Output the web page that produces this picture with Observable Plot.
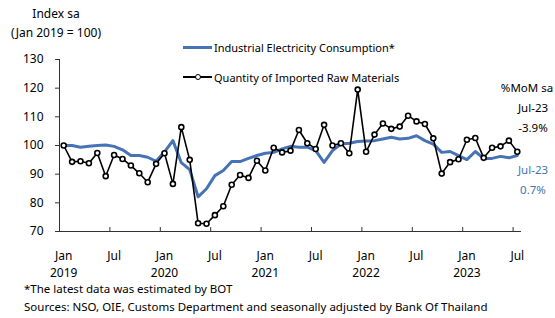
<!DOCTYPE html>
<html>
<head>
<meta charset="utf-8">
<script src="https://cdn.jsdelivr.net/npm/d3@7"></script>
<script src="https://cdn.jsdelivr.net/npm/@observablehq/plot@0.6"></script>
<style>
  html, body { margin: 0; padding: 0; background: #fff; }
  body { font-family: "Noto Sans", sans-serif; color: #000; }
  #wrap { position: relative; width: 555px; height: 318px; overflow: hidden; }
  .t { position: absolute; white-space: nowrap; line-height: 1; }
  .lg { position: absolute; display: flex; align-items: center; font-size: 11px; white-space: nowrap; }
  .sw { position: relative; width: 29px; height: 3px; margin-right: 2px; }
</style>
</head>
<body>
<div id="wrap"></div>
<script>
// ---- data (monthly, Jan 2019 .. Jul 2023) ----
const startYear = 2019;
const electricity = [
  100, 100.0, 99.4, 99.7, 100.0, 100.2, 99.7, 98.5, 96.5, 96.5, 95.9, 94.5,
  97.8, 101.7, 94.0, 91.6, 82.1, 84.9, 89.5, 91.3, 94.4, 94.4, 95.5, 96.5,
  97.3, 97.6, 98.8, 99.7, 99.4, 99.4, 98.2, 94.1, 98.2, 100.5, 100.8, 101.4,
  101.6, 101.7, 102.3, 102.9, 102.3, 102.5, 103.4, 101.7, 100.5, 97.6, 97.9, 96.5,
  95.1, 97.9, 95.5, 95.5, 96.2, 95.7, 96.5
];
const rawMaterials = [
  100, 94.3, 94.5, 93.8, 97.4, 89.3, 96.7, 95.3, 93.0, 90.3, 87.2, 93.6,
  97.3, 86.6, 106.4, 95.0, 72.9, 72.7, 75.7, 78.8, 86.3, 89.7, 88.7, 94.7,
  91.3, 99.2, 97.6, 98.2, 105.4, 100.8, 98.8, 107.2, 100.0, 100.8, 97.3, 119.5,
  97.8, 103.8, 107.7, 105.8, 106.6, 110.4, 108.4, 107.5, 102.5, 90.2, 94.2, 95.2,
  102.0, 102.6, 95.7, 99.2, 99.7, 101.7, 97.8
];
const yTicks = [70, 80, 90, 100, 110, 120, 130];
const xTickMonths = [0, 6, 12, 18, 24, 30, 36, 42, 48, 54];
const xTickLabels = ["Jan\n2019", "Jul", "Jan\n2020", "Jul", "Jan\n2021", "Jul", "Jan\n2022", "Jul", "Jan\n2023", "Jul"];
const seriesNames = ["Industrial Electricity Consumption*", "Quantity of Imported Raw Materials"];
const annoBlack = ["%MoM sa", "Jul-23", "-3.9%"];
const annoBlue = ["Jul-23", "0.7%"];

const BLUE = "#4673b5";
const data = electricity.map((e, i) => ({i, elec: e, raw: rawMaterials[i]}));

const W = 555, H = 318;
const mTop = 59, mBottom = 87, mLeft = 59, mRight = 34;
const plotH = H - mTop - mBottom;

const chart = Plot.plot({
  width: W, height: H,
  marginTop: mTop, marginBottom: mBottom, marginLeft: mLeft, marginRight: mRight,
  style: {fontFamily: "'Noto Sans', sans-serif", fontSize: "12px", color: "#000", background: "transparent"},
  x: {domain: [-0.5, electricity.length - 0.5], axis: null},
  y: {domain: [yTicks[0], yTicks[yTicks.length - 1]], axis: null},
  marks: [
    Plot.axisY({ticks: yTicks, tickSize: 4, tickPadding: 12, stroke: "#333", fill: "#000", label: null, fontSize: 12}),
    Plot.axisX({ticks: xTickMonths, tickFormat: (d, k) => xTickLabels[k], tickSize: 0, tickPadding: 17, lineHeight: 1.4, fill: "#000", label: null, fontSize: 12}),
    Plot.ruleX([-0.5], {stroke: "#333", strokeWidth: 1}),
    Plot.ruleY([yTicks[0]], {stroke: "#333", strokeWidth: 1}),
    Plot.tickX(xTickMonths, {x: d => d - 0.5, stroke: "#333", insetTop: plotH - 4}),
    Plot.line(data, {x: "i", y: "elec", stroke: BLUE, strokeWidth: 3, curve: "linear"}),
    Plot.line(data, {x: "i", y: "raw", stroke: "#000", strokeWidth: 1.6}),
    Plot.dot(data, {x: "i", y: "raw", r: 2.5, fill: "#fff", stroke: "#000", strokeWidth: 1.6})
  ]
});

const wrap = document.getElementById("wrap");
chart.style.position = "absolute";
chart.style.left = "0px";
chart.style.top = "0px";
wrap.appendChild(chart);

function addText(txt, x, y, size, color, align) {
  const d = document.createElement("div");
  d.className = "t";
  d.textContent = txt;
  d.style.fontSize = size + "px";
  d.style.color = color || "#000";
  d.style.top = (y - size / 2) + "px";
  if (align === "center") { d.style.left = x + "px"; d.style.transform = "translateX(-50%)"; }
  else d.style.left = x + "px";
  wrap.appendChild(d);
}
addText("Index sa", 56, 14, 12, "#000", "center");
addText("(Jan 2019 = 100)", 56, 33, 12, "#000", "center");
addText("*The latest data was estimated by BOT", 24, 289, 11.5);
addText("Sources: NSO, OIE, Customs Department and seasonally adjusted by Bank Of Thailand", 24, 307, 11.5);

// annotations
addText(annoBlack[0], 527, 88, 11.5, "#000", "center");
addText(annoBlack[1], 533, 108, 11.5, "#000", "center");
addText(annoBlack[2], 533, 128, 11.5, "#000", "center");
addText(annoBlue[0], 533, 170, 11.5, BLUE, "center");
addText(annoBlue[1], 533, 190, 11.5, BLUE, "center");

// legend
function legend(name, y, blue) {
  const row = document.createElement("div");
  row.className = "lg";
  row.style.left = "183px";
  row.style.top = (y - 8) + "px";
  row.style.height = "16px";
  const sw = document.createElement("div");
  sw.className = "sw";
  if (blue) {
    sw.style.background = BLUE;
  } else {
    sw.style.height = "2px";
    sw.style.background = "#000";
    const c = document.createElement("div");
    c.style.cssText = "position:absolute;left:12px;top:-2.5px;width:4px;height:4px;border:1.5px solid #000;border-radius:50%;background:#fff;";
    sw.appendChild(c);
  }
  row.appendChild(sw);
  const s = document.createElement("span");
  s.textContent = name;
  row.appendChild(s);
  wrap.appendChild(row);
}
legend(seriesNames[0], 47, true);
legend(seriesNames[1], 77, false);
</script>
</body>
</html>
